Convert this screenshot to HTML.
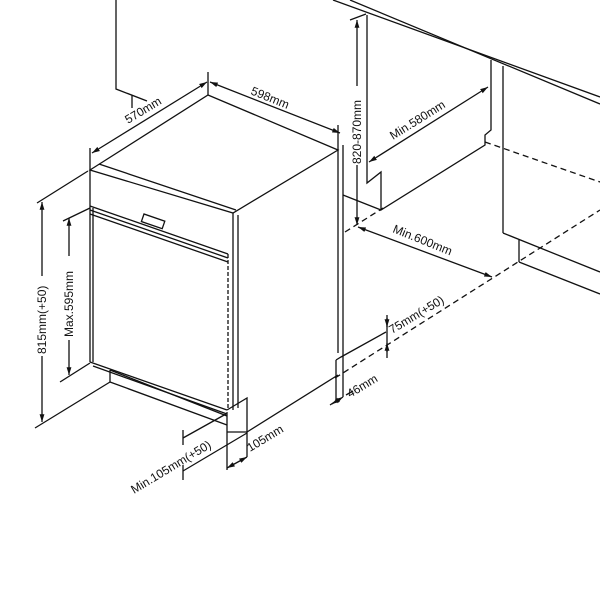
<!DOCTYPE html>
<html><head><meta charset="utf-8"><style>
html,body{margin:0;padding:0;background:#fff}
svg{display:block}
text{font-family:"Liberation Sans",sans-serif;font-size:12px;fill:#111}
</style></head><body>
<svg width="600" height="600" viewBox="0 0 600 600" xmlns="http://www.w3.org/2000/svg">
<defs>
<marker id="a" viewBox="0 0 8 8" refX="8" refY="4" markerWidth="6" markerHeight="6" orient="auto-start-reverse"><path d="M0,1.5 L8,4 L0,6.5 z" fill="#111"/></marker>
</defs>
<g stroke="#111" stroke-width="1.3" fill="none">
<line x1="333" y1="0" x2="600" y2="97"/>
<line x1="350" y1="0" x2="600" y2="104"/>
<polyline points="116,0 116,89 147,101"/>
<line x1="132" y1="95" x2="132" y2="108"/>
<polyline points="367,15 367,183 381,172 381,210 485,145 485,135 491,130 491,60"/>
<line x1="343" y1="195" x2="381" y2="210"/>
<line x1="503" y1="66" x2="503" y2="233"/>
<line x1="503" y1="233" x2="600" y2="272"/>
<line x1="519" y1="240" x2="519" y2="262"/>
<line x1="519" y1="262" x2="600" y2="294"/>
<line x1="343" y1="145" x2="343" y2="397"/>
<line x1="336" y1="360" x2="336" y2="400"/>
<polyline points="336,360 341,357 386,332"/>
<g stroke-dasharray="6,4">
<line x1="345" y1="232" x2="383" y2="208"/>
<line x1="485" y1="142" x2="600" y2="182"/>
<line x1="335" y1="378" x2="600" y2="210"/>
</g>
<polygon points="90,170 208,95 338,150 233,213"/>
<line x1="99" y1="164" x2="236" y2="210"/>
<line x1="90" y1="170" x2="90" y2="362"/>
<line x1="93" y1="208" x2="93" y2="362"/>
<line x1="233" y1="213" x2="233" y2="410"/>
<line x1="238" y1="215" x2="238" y2="408"/>
<line x1="90" y1="206" x2="228" y2="254"/>
<line x1="90" y1="210" x2="228" y2="258"/>
<line x1="90" y1="214" x2="228" y2="262"/>
<rect x="0" y="0" width="22" height="8" transform="translate(144,214) rotate(19)"/>
<line x1="228" y1="254" x2="228" y2="410" stroke-dasharray="4,2"/>
<line x1="338" y1="150" x2="338" y2="353"/>
<line x1="247" y1="432" x2="338" y2="375"/>
<line x1="90" y1="362" x2="227" y2="410"/>
<line x1="93" y1="366" x2="227" y2="414"/>
<line x1="110" y1="370" x2="110" y2="382"/>
<line x1="110" y1="382" x2="227" y2="425"/>
<line x1="110" y1="370" x2="227" y2="416"/>
<polyline points="227,410 247,398 247,457"/>
<line x1="227" y1="412" x2="227" y2="470"/>
<line x1="227" y1="432" x2="247" y2="432"/>
<line x1="37" y1="203" x2="88" y2="171"/>
<line x1="35" y1="428" x2="110" y2="382"/>
<line x1="42" y1="202" x2="42" y2="276" marker-start="url(#a)"/>
<line x1="42" y1="356" x2="42" y2="422" marker-end="url(#a)"/>
<line x1="63" y1="221" x2="90" y2="208"/>
<line x1="60" y1="382" x2="90" y2="363"/>
<line x1="69" y1="218" x2="69" y2="256" marker-start="url(#a)"/>
<line x1="69" y1="340" x2="69" y2="375" marker-end="url(#a)"/>
<line x1="90" y1="148" x2="90" y2="170"/>
<line x1="208" y1="72" x2="208" y2="95"/>
<line x1="92" y1="153" x2="207" y2="82" marker-start="url(#a)" marker-end="url(#a)"/>
<line x1="210" y1="82" x2="340" y2="133" marker-start="url(#a)" marker-end="url(#a)"/>
<line x1="338" y1="125" x2="338" y2="150"/>
<line x1="350" y1="20" x2="366" y2="14"/>
<line x1="357" y1="20" x2="357" y2="86" marker-start="url(#a)"/>
<line x1="357" y1="165" x2="357" y2="225" marker-end="url(#a)"/>
<line x1="369" y1="162" x2="488" y2="87" marker-start="url(#a)" marker-end="url(#a)"/>
<line x1="358" y1="227" x2="492" y2="277" marker-start="url(#a)" marker-end="url(#a)"/>
<line x1="387" y1="315" x2="387" y2="358"/>
<line x1="387" y1="318" x2="387" y2="327" marker-end="url(#a)"/>
<line x1="387" y1="352" x2="387" y2="343" marker-end="url(#a)"/>
<line x1="330" y1="405" x2="336" y2="401"/>
<line x1="346" y1="395" x2="353" y2="391"/>
<line x1="332" y1="404" x2="343" y2="397" marker-start="url(#a)" marker-end="url(#a)"/>
<line x1="227" y1="468" x2="247" y2="457" marker-start="url(#a)" marker-end="url(#a)"/>
<line x1="183" y1="430" x2="183" y2="445"/>
<line x1="183" y1="465" x2="183" y2="480"/>
<line x1="183" y1="438" x2="226" y2="414"/>
<line x1="183" y1="471" x2="247" y2="433"/>
</g>
<text transform="translate(128,124) rotate(-31)">570mm</text>
<text transform="translate(250,94) rotate(22)">598mm</text>
<text transform="translate(46,354) rotate(-90)">815mm(+50)</text>
<text transform="translate(73,337) rotate(-90)">Max.595mm</text>
<text transform="translate(361,164) rotate(-90)">820-870mm</text>
<text transform="translate(393,140) rotate(-32)">Min.580mm</text>
<text transform="translate(392,232) rotate(22)">Min.600mm</text>
<text transform="translate(392,334) rotate(-31)">75mm(+50)</text>
<text transform="translate(350,398) rotate(-31)">46mm</text>
<text transform="translate(250,452) rotate(-31)">105mm</text>
<text transform="translate(134,494) rotate(-31)">Min.105mm(+50)</text>
</svg>
</body></html>
